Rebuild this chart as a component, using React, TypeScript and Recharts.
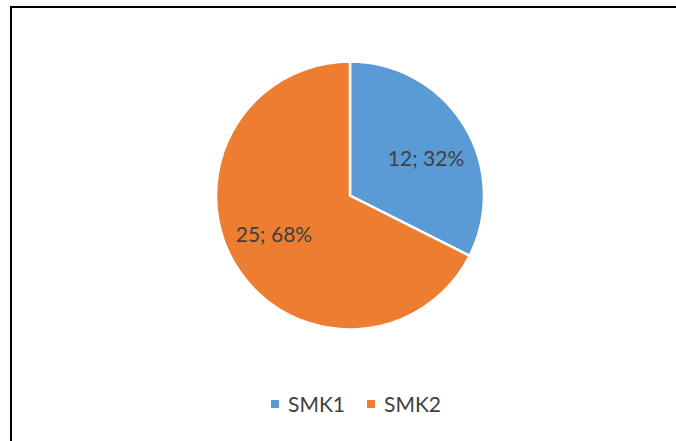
import { PieChart, Pie, Cell, Legend } from "recharts";

const NAMES = ["SMK1", "SMK2"];
const VALUES = [12, 25];
const COLORS = ["#5b9bd5", "#ed7d31"];

const data = NAMES.map((name, i) => ({ name, value: VALUES[i] }));
const total = VALUES.reduce((a, b) => a + b, 0);

const RAD = Math.PI / 180;

// data labels sit a bit inside the slice, slightly rotated clockwise like Excel's best fit
function renderLabel(props: any) {
  const { cx, cy, midAngle, outerRadius, value } = props;
  const r = outerRadius * 0.635;
  const a = midAngle - 5;
  const x = cx + r * Math.cos(-a * RAD);
  const y = cy + r * Math.sin(-a * RAD);
  const pct = Math.round((value / total) * 100);
  return (
    <text
      x={x}
      y={y}
      fill="#404040"
      fontSize={21}
      textAnchor="middle"
      dominantBaseline="central"
    >
      {`${value}; ${pct}%`}
    </text>
  );
}

function LegendContent() {
  return (
    <div
      style={{
        display: "flex",
        justifyContent: "center",
        alignItems: "center",
        gap: 22,
        fontSize: 21,
        color: "#404040",
        paddingLeft: 36,
      }}
    >
      {data.map((d, i) => (
        <div key={d.name} style={{ display: "flex", alignItems: "center" }}>
          <span
            style={{
              width: 8,
              height: 8,
              background: COLORS[i],
              marginRight: 9,
              display: "inline-block",
            }}
          />
          {d.name}
        </div>
      ))}
    </div>
  );
}

export default function App() {
  return (
    <div
      style={{
        position: "absolute",
        left: 0,
        top: 0,
        width: 676,
        height: 441,
        background: "#fff",
        fontFamily: "Lato, 'Open Sans', sans-serif",
        overflow: "hidden",
      }}
    >
      <div
        style={{
          position: "absolute",
          left: 10,
          top: 6,
          width: 700,
          height: 500,
          borderTop: "2px solid #000",
          borderLeft: "2px solid #000",
        }}
      />
      <PieChart
        width={676}
        height={441}
        margin={{ top: 0, right: 0, bottom: 0, left: 0 }}
        style={{ position: "absolute", left: 0, top: 0 }}
      >
        <Pie
          data={data}
          dataKey="value"
          nameKey="name"
          cx={350}
          cy={195.5}
          outerRadius={134}
          startAngle={90}
          endAngle={-270}
          stroke="#fff"
          strokeWidth={2.5}
          label={renderLabel}
          labelLine={false}
          isAnimationActive={false}
        >
          {data.map((_, i) => (
            <Cell key={i} fill={COLORS[i]} />
          ))}
        </Pie>
        <Legend
          content={<LegendContent />}
          verticalAlign="bottom"
          wrapperStyle={{ top: 391, left: 0, width: 676, bottom: "auto" }}
        />
      </PieChart>
    </div>
  );
}
